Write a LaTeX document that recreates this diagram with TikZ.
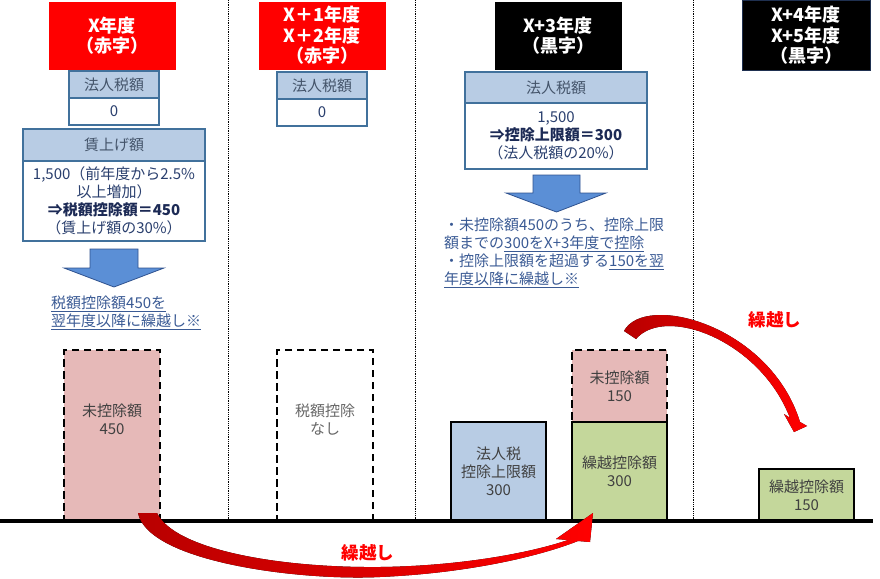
\documentclass[tikz,border=0pt]{standalone}
\usepackage{fontspec}
\setmainfont{Noto Sans CJK JP}
\usetikzlibrary{positioning,calc}
\definecolor{hdrblue}{HTML}{B8CCE4}
\definecolor{tblline}{HTML}{41719C}
\definecolor{txtgray}{HTML}{44546A}
\definecolor{navy}{HTML}{2A3F6E}
\definecolor{deepnavy}{HTML}{1C2A55}
\definecolor{linkblue}{HTML}{3A5A94}
\definecolor{arrowblue}{HTML}{5B8FD6}
\definecolor{arrowedge}{HTML}{2F528F}
\definecolor{pinkbox}{HTML}{E6B9B8}
\definecolor{greenbox}{HTML}{C4D79B}
\definecolor{darkred}{HTML}{B80000}
\definecolor{bartext}{HTML}{404040}
\definecolor{hdredge}{HTML}{1F3050}
\newcommand{\bodyfont}{\fontsize{15}{18}\selectfont}
\newcommand{\titlefont}{\fontsize{18}{20.5}\selectfont\bfseries}
\newcommand{\carryfont}{\fontsize{17.5}{20}\selectfont\bfseries}

\begin{document}
\begin{tikzpicture}[x=1pt,y=-1pt,
    yearred/.style={fill=red, draw=red, text=white, font=\titlefont, align=center,
      inner sep=0pt, outer sep=0pt, anchor=north west},
    yearblack/.style={yearred, fill=black, draw=black},
    cellhead/.style={draw=tblline, line width=1.2pt, fill=hdrblue, text=txtgray,
      font=\bodyfont, inner sep=0pt, outer sep=0pt, align=center},
    cellbody/.style={cellhead, fill=white, text=navy},
    blockarrow/.style={fill=arrowblue, draw=arrowedge, line width=0.8pt},
    note/.style={text=linkblue, font=\bodyfont, align=left, inner sep=0pt, anchor=north west},
    solidbar/.style={draw=black, line width=2.2pt, inner sep=0pt, outer sep=0pt,
      anchor=north west, text=bartext, font=\bodyfont, align=center},
    dashbar/.style={solidbar, dash pattern=on 7.5pt off 4.5pt},
    barlabel/.style={text=bartext, font=\bodyfont, align=center},
    carry/.style={text=red, font=\carryfont},
    yearline/.style={densely dotted, line width=0.8pt}]
  \useasboundingbox (0,0) rectangle (880,578);

  \draw[yearline] (228,0) -- (228,519);
  \draw[yearline] (415,0) -- (415,519);
  \draw[yearline] (693,0) -- (693,519);

  \node[yearred, minimum width=126pt, minimum height=67pt] (hX) at (49,2) {X年度\\（赤字）};
  \node[yearred, minimum width=126pt, minimum height=67pt] (hX1) at (259,2) {X＋1年度\\X＋2年度\\（赤字）};
  \node[yearblack, minimum width=126pt, minimum height=67pt] (hX3) at (495,2) {X+3年度\\（黒字）};
  \node[yearblack, draw=hdredge, line width=1pt, minimum width=128pt, minimum height=69pt] (hX4) at (742,1) {X+4年度\\X+5年度\\（黒字）};

  \node[cellhead, minimum width=90pt, minimum height=27pt, anchor=north west] (taxhX) at (69,71) {法人税額};
  \node[cellbody, minimum width=90pt, minimum height=27pt, below=0pt of taxhX] (taxX) {0};
  \node[cellhead, minimum width=182pt, minimum height=32pt, anchor=north west] (wagehX) at (23,129) {賃上げ額};
  \node[cellbody, minimum width=182pt, minimum height=80pt, below=0pt of wagehX] (wageX)
    {1,500（前年度から2.5\%\\以上増加）\\{\bfseries\color{deepnavy}⇒税額控除額＝450}\\（賃上げ額の30\%）};

  \node[cellhead, minimum width=90pt, minimum height=27pt, anchor=north west] (taxhX1) at (277,72) {法人税額};
  \node[cellbody, minimum width=90pt, minimum height=27pt, below=0pt of taxhX1] (taxX1) {0};

  \node[cellhead, minimum width=182pt, minimum height=31pt, anchor=north west] (taxhX3) at (465,72) {法人税額};
  \node[cellbody, minimum width=182pt, minimum height=66pt, below=0pt of taxhX3] (taxX3)
    {1,500\\{\bfseries\color{deepnavy}⇒控除上限額＝300}\\（法人税額の20\%）};

  \draw[blockarrow] (90,249) -- (138,249) -- (138,268) -- (164,268) -- (114,287) -- (64,268) -- (90,268) -- cycle;
  \draw[blockarrow] (533,175) -- (580,175) -- (580,193) -- (606,193) -- (556.5,212) -- (506,193) -- (533,193) -- cycle;

  \node[note] (noteX) at (51,296) {\underline{税額控除額450を}\\\underline{翌年度以降に繰越し※}};
  \node[note] (noteX3) at (444,218)
    {・未控除額450のうち、控除上限\\額までの\underline{300をX+3年度で控除}\\・控除上限額を超過する\underline{150を翌}\\\underline{年度以降に繰越し※}};

  \node[dashbar, fill=pinkbox, minimum width=96pt, minimum height=171pt] (restX) at (64,350) {};
  \node[barlabel] (restXtxt) at ($(restX.center)+(0,-16)$) {未控除額\\450};
  \node[dashbar, minimum width=96pt, minimum height=171pt] (noneX1) at (277,350) {};
  \node[barlabel, text=black!60] (noneX1txt) at ($(noneX1.center)+(0,-16)$) {税額控除\\なし};

  \node[solidbar, fill=hdrblue, minimum width=95pt, minimum height=99pt] (capX3) at (451,422) {法人税\\控除上限額\\300};
  \node[dashbar, fill=pinkbox, minimum width=95pt, minimum height=72pt] (restX3) at (572,350) {未控除額\\150};
  \node[solidbar, fill=greenbox, minimum width=95pt, minimum height=99pt] (usedX3) at (572,422) {繰越控除額\\300};
  \node[solidbar, fill=greenbox, minimum width=95pt, minimum height=52pt] (usedX4) at (759,469) {繰越控除額\\150};

  \draw[line width=3.5pt] (0,521) -- (873,521);

  \fill[left color=darkred, right color=red]
    (138,513) .. controls (148,562) and (300,581) .. (380,577)
    .. controls (470,573) and (540,556) .. (578,541)
    -- (590,542) -- (593,513) -- (556,539) -- (568,540)
    .. controls (530,553) and (460,566) .. (380,567)
    .. controls (280,568) and (175,550) .. (157,513) -- cycle;
  \fill[left color=darkred, right color=red]
    (624,331) .. controls (645,292) and (770,325) .. (800,422)
    -- (807,426) -- (794,432) -- (784,414) -- (790,418)
    .. controls (760,340) and (665,305) .. (636,339) -- cycle;

  \node[carry] (carryA) at (368,553) {繰越し};
  \node[carry] (carryB) at (775,320) {繰越し};
\end{tikzpicture}
\end{document}
